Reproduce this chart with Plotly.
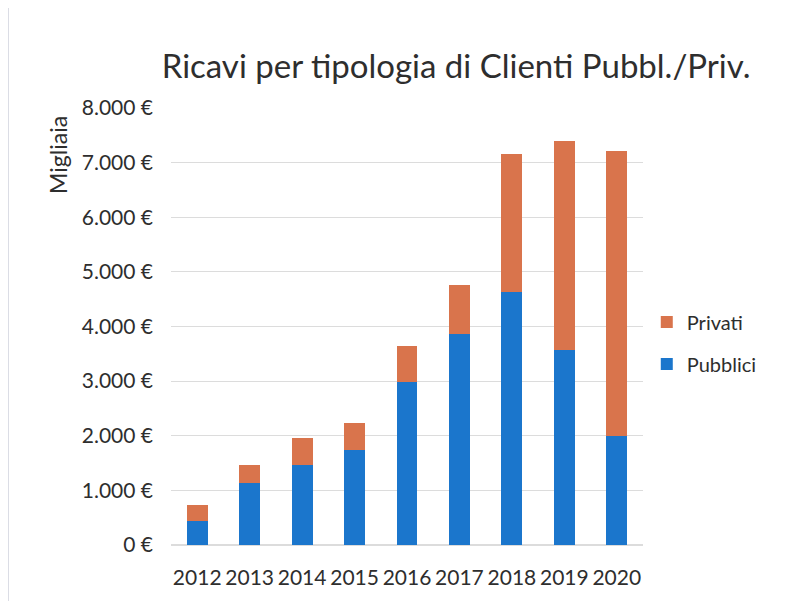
import plotly.graph_objects as go

anni = ["2012", "2013", "2014", "2015", "2016", "2017", "2018", "2019", "2020"]
pubblici = [444, 1143, 1471, 1733, 2985, 3859, 4624, 3578, 1988]
privati = [286, 328, 480, 504, 660, 906, 2528, 3819, 5226]
y_ticks = [0, 1000, 2000, 3000, 4000, 5000, 6000, 7000, 8000]
y_labels = [f"{v:,}".replace(",", ".") + " €" for v in y_ticks]

FONT = "Lato"
COL = "#2e2e2e"
fig = go.Figure()
fig.add_trace(go.Bar(x=anni, y=pubblici, name="Pubblici", legendrank=2, legendgroup="pub",
                     marker=dict(color="#1b76cc", line=dict(width=0))))
fig.add_trace(go.Bar(x=anni, y=privati, name="Privati", legendrank=1, legendgroup="priv",
                     marker=dict(color="#d9744c", line=dict(width=0))))

fig.update_layout(
    width=790, height=601,
    barmode="stack", bargap=0.6,
    paper_bgcolor="white", plot_bgcolor="white",
    margin=dict(l=163, r=155, t=100, b=64),
    font=dict(family=FONT, color=COL, size=20),
    title=dict(text="Ricavi per tipologia di Clienti Pubbl./Priv.", x=0.604, xref="paper", xanchor="center",
               y=0.903, yanchor="middle", font=dict(size=33, family=FONT, color=COL)),
    xaxis=dict(showgrid=False, showline=False, ticks="", tickfont=dict(size=21),
               ticklabelstandoff=18),
    yaxis=dict(range=[0, 8000], tickvals=y_ticks, ticktext=y_labels,
               showgrid=True, gridcolor="#dcdcdc", gridwidth=1, zeroline=True,
               zerolinecolor="#dcdcdc", showline=False, ticks="", tickfont=dict(size=21),
               ticklabelstandoff=17),
    legend=dict(x=1.008, y=0.462, xanchor="left", yanchor="middle",
                traceorder="grouped", tracegroupgap=13, font=dict(size=20), itemwidth=30),
    showlegend=True,
)
fig.add_annotation(text="Migliaia", xref="paper", yref="paper", x=-0.24, y=0.892,
                   textangle=-90, showarrow=False, font=dict(size=23, family=FONT, color=COL),
                   xanchor="center", yanchor="middle")
fig.add_shape(type="line", xref="paper", yref="paper", x0=-0.345, x1=-0.345, y0=-0.15, y1=1.23,
              line=dict(color="#c8ccd8", width=1))
fig.write_html("out.html")
